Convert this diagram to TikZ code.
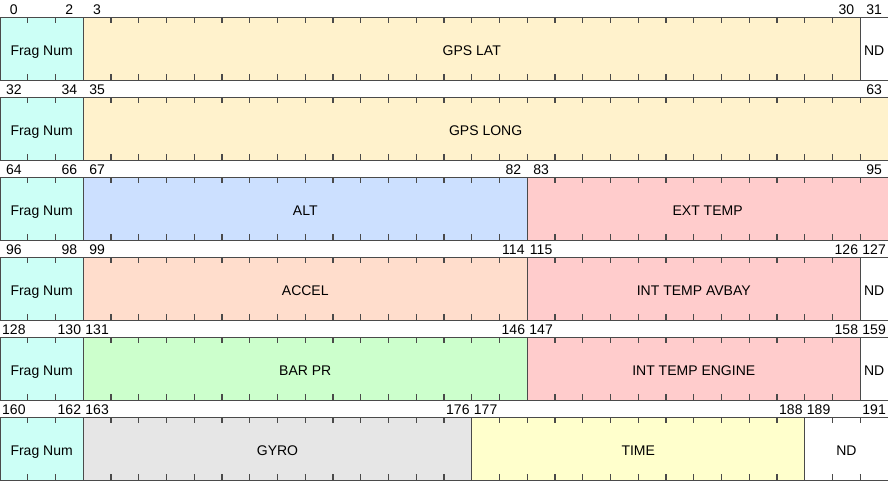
\documentclass[tikz,border=0pt]{standalone}
\usepackage{fontspec}
\setmainfont{Liberation Sans}
\definecolor{cfrag}{HTML}{CCFFF6}
\definecolor{cgps}{HTML}{FFF2CC}
\definecolor{calt}{HTML}{CCE0FF}
\definecolor{ctemp}{HTML}{FFCCCC}
\definecolor{caccel}{HTML}{FFDDCC}
\definecolor{cbar}{HTML}{CCFFCC}
\definecolor{cgyro}{HTML}{E6E6E6}
\definecolor{ctime}{HTML}{FFFFCC}
\definecolor{cline}{HTML}{4A4A4A}
\tikzset{
  fieldbox/.style={draw=cline, line width=1pt, rectangle, inner sep=0pt, outer sep=0pt,
    minimum height=63pt, text height=14pt, text depth=0pt,
    font=\fontsize{14}{16}\selectfont, text=black},
  bitnum/.style={inner sep=0pt, anchor=base, font=\fontsize{14}{16}\selectfont, text=black},
  bitticks/.style={draw=cline, line width=6pt, dash pattern=on 1.2pt off 26.55pt}
}
\newcommand{\bfield}[6]{%
  \pgfmathsetmacro{\bfx}{#2*27.75}%
  \pgfmathsetmacro{\bfw}{(#3-#2+1)*27.75}%
  \pgfmathsetmacro{\bfy}{17+80*#1}%
  \node[fieldbox, fill=#5, minimum width=\bfw pt, anchor=north west] (#6) at (\bfx,\bfy) {#4};
  \pgfmathtruncatemacro{\bfa}{32*#1+#2}%
  \pgfmathtruncatemacro{\bfb}{32*#1+#3}%
  \pgfmathtruncatemacro{\bfn}{#3-#2}%
  \node[bitnum] (#6-s) at ([xshift=13.875pt,yshift=2.5pt]#6.north west) {\bfa};
  \ifnum\bfn>0\relax
    \node[bitnum] (#6-e) at ([xshift=-13.875pt,yshift=2.5pt]#6.north east) {\bfb};
    \draw[bitticks] ([xshift=27.15pt,yshift=-3pt]#6.north west) -- ([xshift=-1pt,yshift=-3pt]#6.north east);
    \draw[bitticks] ([xshift=27.15pt,yshift=3pt]#6.south west) -- ([xshift=-1pt,yshift=3pt]#6.south east);
  \fi
}
\begin{document}
\begin{tikzpicture}[x=1pt,y=-1pt]
\useasboundingbox (0,0) rectangle (888,480);
\fill[white] (0,0) rectangle (888,480);
% row 0
\bfield{0}{0}{2}{Frag Num}{cfrag}{fa}
\bfield{0}{3}{30}{GPS LAT}{cgps}{lat}
\bfield{0}{31}{31}{ND}{white}{nda}
% row 1
\bfield{1}{0}{2}{Frag Num}{cfrag}{fb}
\bfield{1}{3}{31}{GPS LONG}{cgps}{long}
% row 2
\bfield{2}{0}{2}{Frag Num}{cfrag}{fc}
\bfield{2}{3}{18}{ALT}{calt}{alt}
\bfield{2}{19}{31}{EXT TEMP}{ctemp}{ext}
% row 3
\bfield{3}{0}{2}{Frag Num}{cfrag}{fd}
\bfield{3}{3}{18}{ACCEL}{caccel}{accel}
\bfield{3}{19}{30}{INT TEMP AVBAY}{ctemp}{avbay}
\bfield{3}{31}{31}{ND}{white}{ndd}
% row 4
\bfield{4}{0}{2}{Frag Num}{cfrag}{fe}
\bfield{4}{3}{18}{BAR PR}{cbar}{bar}
\bfield{4}{19}{30}{INT TEMP ENGINE}{ctemp}{engine}
\bfield{4}{31}{31}{ND}{white}{nde}
% row 5
\bfield{5}{0}{2}{Frag Num}{cfrag}{ff}
\bfield{5}{3}{16}{GYRO}{cgyro}{gyro}
\bfield{5}{17}{28}{TIME}{ctime}{time}
\bfield{5}{29}{31}{ND}{white}{ndf}
\end{tikzpicture}
\end{document}
